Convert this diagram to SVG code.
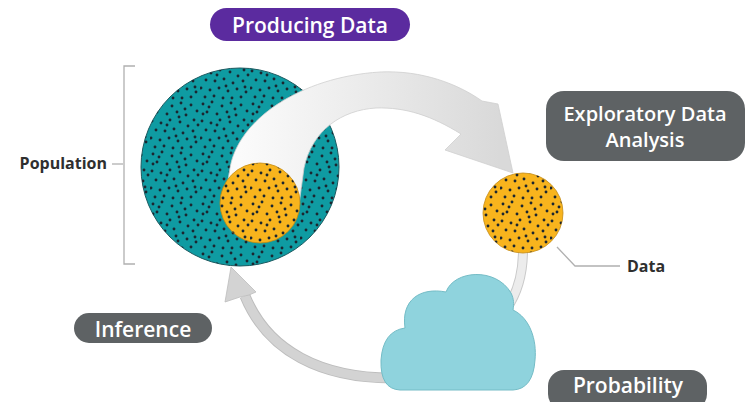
<svg xmlns="http://www.w3.org/2000/svg" width="748" height="402" viewBox="0 0 748 402">
<defs>
<style>
.lbl{font-family:"Open Sans","Noto Sans","Liberation Sans",sans-serif;font-weight:700;fill:#2f2f2f;font-size:16px}
.pill{font-family:"Open Sans","Noto Sans","Liberation Sans",sans-serif;font-weight:600;fill:#ffffff;text-anchor:middle}
.gp{fill:#5e6264}
.band{fill:none;stroke-linecap:butt}
.tick{fill:none;stroke:#b0b0b0;stroke-width:1.3}
</style>
<pattern id="dots" patternUnits="userSpaceOnUse" width="50" height="50">
<g fill="#1b2630">
<circle cx="3" cy="4" r="1.45"/><circle cx="12" cy="2" r="1.45"/><circle cx="22" cy="6" r="1.45"/><circle cx="31" cy="3" r="1.45"/><circle cx="41" cy="5" r="1.45"/>
<circle cx="47" cy="11" r="1.45"/><circle cx="7" cy="12" r="1.45"/><circle cx="17" cy="14" r="1.45"/><circle cx="27" cy="12" r="1.45"/><circle cx="36" cy="15" r="1.45"/>
<circle cx="44" cy="20" r="1.45"/><circle cx="2" cy="21" r="1.45"/><circle cx="11" cy="23" r="1.45"/><circle cx="20" cy="20" r="1.45"/><circle cx="30" cy="22" r="1.45"/>
<circle cx="38" cy="26" r="1.45"/><circle cx="6" cy="30" r="1.45"/><circle cx="15" cy="31" r="1.45"/><circle cx="24" cy="29" r="1.45"/><circle cx="33" cy="33" r="1.45"/>
<circle cx="43" cy="31" r="1.45"/><circle cx="1" cy="38" r="1.45"/><circle cx="10" cy="40" r="1.45"/><circle cx="19" cy="38" r="1.45"/><circle cx="28" cy="41" r="1.45"/>
<circle cx="37" cy="39" r="1.45"/><circle cx="46" cy="42" r="1.45"/><circle cx="5" cy="47" r="1.45"/><circle cx="14" cy="46" r="1.45"/><circle cx="23" cy="48" r="1.45"/>
<circle cx="32" cy="48" r="1.45"/><circle cx="41" cy="47" r="1.45"/><circle cx="48" cy="25" r="1.45"/><circle cx="26" cy="36" r="1.45"/><circle cx="9" cy="7" r="1.45"/>
<circle cx="35" cy="9" r="1.45"/><circle cx="17" cy="25" r="1.45"/><circle cx="45" cy="37" r="1.45"/><circle cx="3" cy="14" r="1.45"/><circle cx="29" cy="17" r="1.45"/>
</g>
</pattern>
<linearGradient id="arrowGrad" gradientUnits="userSpaceOnUse" x1="240" y1="0" x2="500" y2="0">
<stop offset="0" stop-color="#fbfbfb"/>
<stop offset="0.45" stop-color="#ececec"/>
<stop offset="1" stop-color="#d9d9d9"/>
</linearGradient>
</defs>

<rect width="748" height="402" fill="#ffffff"/>

<g id="population">
<circle cx="240" cy="167" r="99" fill="#0f9ba2" stroke="#1d5a60" stroke-width="1"/>
<circle cx="240" cy="167" r="99" fill="url(#dots)"/>
</g>

<g id="connectors">
<path id="producing-arrow" d="M 224,205 L 230,168 C 238,120 300,77 380,72 C 422,70 458,84 482,101 L 498,104 L 513,173 L 445,150 L 461,134 C 432,116 406,107 376,108 C 342,110 312,130 304,168 L 299,205 Z" fill="url(#arrowGrad)" stroke="#cfcfcf" stroke-width="0.8"/>
<path id="probability-arc" class="band" d="M 523,250 C 523,274 518,292 507,308" stroke="#c9c9c9" stroke-width="10"/>
<path class="band" d="M 523,250 C 523,274 518,292 507,308" stroke="#ececec" stroke-width="8"/>
<path id="inference-arc" class="band" d="M 392,378 C 322,378 268,352 245,296" stroke="#bdbdbd" stroke-width="11"/>
<path class="band" d="M 392,378 C 322,378 268,352 245,296" stroke="#d3d3d3" stroke-width="9"/>
<polygon points="231,267 256,292 249,295 240,297 225,302" fill="#d3d3d3" stroke="#bdbdbd" stroke-width="0.8"/>
</g>

<g id="sample">
<circle cx="260" cy="203" r="40" fill="#f8b41d" stroke="#c48a12" stroke-width="0.8"/>
<circle cx="260" cy="203" r="40" fill="url(#dots)"/>
</g>

<g id="data">
<circle cx="523" cy="213" r="40" fill="#f8b41d" stroke="#c48a12" stroke-width="0.8"/>
<circle cx="523" cy="213" r="40" fill="url(#dots)"/>
<polyline class="tick" points="557,247 575,266 620,266" stroke="#8a8a8a"/>
<text class="lbl" x="627" y="272">Data</text>
</g>

<g id="cloud">
<path d="M 400,390 Q 380,389 381,360 Q 383,331 405,328 C 401,300 420,287 446,292 C 454,270 496,267 511,293 C 514,299 514,304 513,310 C 530,318 537,340 535,360 Q 533,389 513,390 Z" fill="#8fd3dd" stroke="#74bcc6" stroke-width="1"/>
</g>

<g id="population-label">
<polyline class="tick" points="135,66 124,66 124,264 135,264"/>
<line class="tick" x1="112" y1="164" x2="123" y2="164"/>
<text class="lbl" x="107" y="169" text-anchor="end">Population</text>
</g>

<g id="producing-data">
<rect x="210" y="8" width="200" height="33" rx="16.5" fill="#5b2b9f"/>
<text class="pill" x="310" y="33" font-size="21">Producing Data</text>
</g>

<g id="eda">
<rect x="546" y="91" width="199" height="70" rx="18" class="gp"/>
<text class="pill" x="645" y="121" font-size="20">Exploratory Data</text>
<text class="pill" x="645" y="147" font-size="20">Analysis</text>
</g>

<g id="inference">
<rect x="74" y="313" width="138" height="30" rx="15" class="gp"/>
<text class="pill" x="143" y="337" font-size="21">Inference</text>
</g>

<g id="probability">
<rect x="548" y="370" width="159" height="40" rx="16" class="gp"/>
<text class="pill" x="628" y="393" font-size="21">Probability</text>
</g>
</svg>
